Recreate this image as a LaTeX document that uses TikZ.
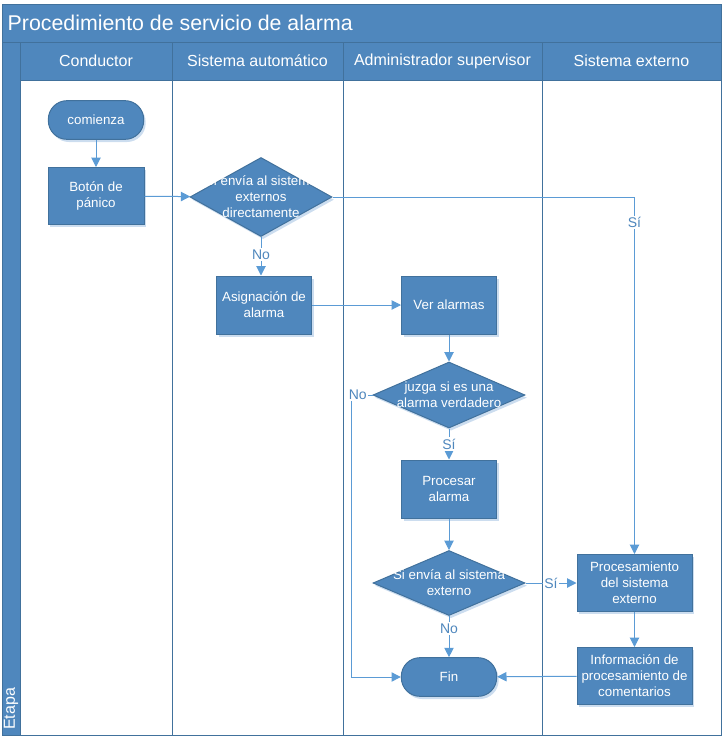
\documentclass[tikz,border=0pt]{standalone}
\usepackage{fontspec}
\setmainfont{Liberation Sans}
\usetikzlibrary{shapes.geometric,arrows.meta,shadows}
\definecolor{boxblue}{HTML}{4F87BD}
\definecolor{edgeblue}{HTML}{41719C}
\definecolor{lineblue}{HTML}{5B9BD5}
\definecolor{shadeblue}{HTML}{CCDDEF}
\tikzset{
  box/.style={draw=edgeblue, fill=boxblue, text=white, align=center, line width=0.75pt,
    font=\fontsize{10}{12}\selectfont,
    drop shadow={fill=shadeblue, opacity=1, shadow xshift=1.5pt, shadow yshift=-2pt}},
  task/.style={box, rectangle, minimum width=71.25pt, minimum height=43.5pt, inner sep=1pt},
  term/.style={box, rectangle, rounded corners=14pt, minimum width=71.5pt, minimum height=29pt},
  decision/.style={box, diamond, inner sep=0pt},
  inside/.style={text=white, align=center, font=\fontsize{10}{12}\selectfont},
  flow/.style={draw=lineblue, line width=0.75pt, -{Triangle[width=7pt,length=7pt]}},
  answer/.style={fill=white, text=boxblue, font=\fontsize{10.5}{12}\selectfont, inner sep=1pt},
  lane/.style={draw=edgeblue, line width=0.75pt},
  headtext/.style={text=white, font=\fontsize{12}{14}\selectfont},
}
\begin{document}
\begin{tikzpicture}[x=0.75pt, y=-0.75pt]
\useasboundingbox (0,0) rectangle (724,739);

% pool and lanes
\fill [boxblue] (2,4) rectangle (721,80);
\fill [boxblue] (2,80) rectangle (20,735);
\draw [lane] (2,4) rectangle (721,735);
\draw [lane] (2,42) -- (721,42);
\draw [lane] (20,80) -- (721,80);
\draw [lane] (20,42) -- (20,735);
\foreach \x in {172,343,542}
  \draw [lane] (\x,42) -- (\x,735);

\node (title) [anchor=west, text=white, font=\fontsize{16}{19}\selectfont] at (3,23) {Procedimiento de servicio de alarma};
\node (etapa) [headtext, rotate=90, anchor=west, inner sep=0pt] at (11,730) {Etapa};
\node (conductor) [headtext] at (96,61) {Conductor};
\node (automatico) [headtext] at (257.5,61) {Sistema automático};
\node (supervisor) [headtext] at (442.5,61) {Administrador supervisor};
\node (externo) [headtext] at (631.5,61) {Sistema externo};

% steps
\node (start) [term] at (96,120) {comienza};
\node (panic) [task, minimum width=72pt, minimum height=42.75pt] at (96,196) {Botón de\\pánico};
\node (direct) [decision, minimum width=106.5pt, minimum height=59.25pt,
  label={[inside]center:Si envía al sistema\\externos\\directamente}] at (261,197) {};
\node (assign) [task] at (264,305) {Asignación de\\alarma};
\node (view) [task] at (449,305) {Ver alarmas};
\node (judge) [decision, minimum width=114pt, minimum height=49.5pt,
  label={[inside]center:juzga si es una\\alarma verdadero}] at (449,395) {};
\node (process) [task] at (449,489) {Procesar\\alarma};
\node (send) [decision, minimum width=114pt, minimum height=48.75pt,
  label={[inside]center:Si envía al sistema\\externo}] at (449,583) {};
\node (fin) [term] at (449,677) {Fin};
\node (extproc) [task, minimum width=86.25pt, minimum height=42.75pt] at (634.5,583) {Procesamiento\\del sistema\\externo};
\node (feedback) [task, minimum width=86.25pt, minimum height=42.75pt] at (634.5,676) {Información de\\procesamiento de\\comentarios};

% connectors
\draw [flow] (start) -- (panic);
\draw [flow] (panic) -- (direct);
\draw [flow] (direct.east) -| node [answer, pos=0.536] {Sí} (extproc.north);
\draw [flow] (direct.south) -- node [answer, pos=0.45] {No} (direct.south |- assign.north);
\draw [flow] (assign) -- (view);
\draw [flow] (view) -- (judge);
\draw [flow] (judge.south) -- node [answer] {Sí} (process.north);
\draw [flow] (judge.west) -- node [answer, pos=0.7] {No} ++(-21,0) |- (fin.west);
\draw [flow] (process) -- (send);
\draw [flow] (send.south) -- node [answer, pos=0.3] {No} (fin.north);
\draw [flow] (send.east) -- node [answer] {Sí} (extproc.west);
\draw [flow] (extproc) -- (feedback);
\draw [flow] (feedback) -- (fin);

\end{tikzpicture}
\end{document}
